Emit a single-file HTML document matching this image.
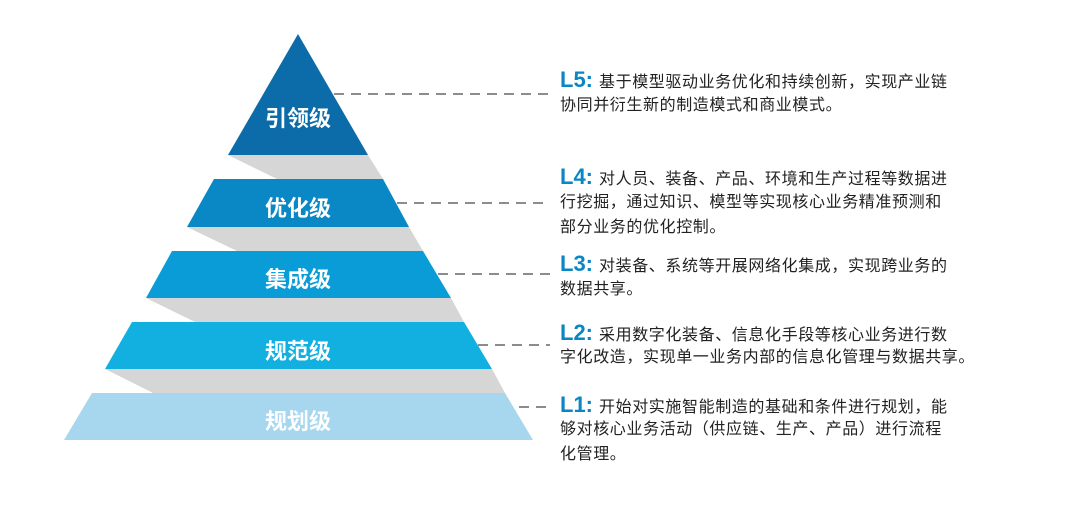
<!DOCTYPE html>
<html><head><meta charset="utf-8"><style>
body{margin:0;width:1080px;height:532px;background:#fff;overflow:hidden;position:relative;font-family:"Liberation Sans","Noto Sans CJK SC",sans-serif}
.t{position:absolute;left:560px;font-size:16px;color:#222;white-space:nowrap;line-height:20px;letter-spacing:0.6px}
.t b{color:#0a86c4;font-size:22px;font-weight:bold;margin-right:6px;letter-spacing:0}
.lab{position:absolute;width:200px;left:198px;text-align:center;color:#fff;font-weight:bold;font-size:22px;font-family:"Noto Sans CJK SC",sans-serif;line-height:26px}
</style></head><body>
<svg width="1080" height="532" style="position:absolute;left:0;top:0">
<g fill="#d6d6d6">
<polygon points="228,155 368,155 383,179 277,179"/>
<polygon points="187,227 409,227 423,251 237,251"/>
<polygon points="146,298 451,298 464,322 195,322"/>
<polygon points="105,369 492,369 505,393 153,393"/>
</g>
<polygon points="298,34 368,155 228,155" fill="#0c6ca9"/>
<polygon points="214,179 383,179 409,227 187,227" fill="#0a87c5"/>
<polygon points="172,251 423,251 451,298 146,298" fill="#0a9cd7"/>
<polygon points="132,322 464,322 492,369 105,369" fill="#12b0e0"/>
<polygon points="92,393 505,393 533,440 64,440" fill="#a6d7ee"/>
<g stroke="#666" stroke-width="1.5" stroke-dasharray="10,7">
<line x1="334" y1="94" x2="550" y2="94"/>
<line x1="397" y1="203" x2="550" y2="203"/>
<line x1="438" y1="274" x2="550" y2="274"/>
<line x1="478" y1="345" x2="550" y2="345"/>
<line x1="519" y1="407" x2="550" y2="407"/>
</g>
</svg>
<div class="lab" style="top:104px">引领级</div>
<div class="lab" style="top:194px">优化级</div>
<div class="lab" style="top:265px">集成级</div>
<div class="lab" style="top:337px">规范级</div>
<div class="lab" style="top:407px">规划级</div>

<div class="t" style="top:70px"><b>L5:</b>基于模型驱动业务优化和持续创新，实现产业链</div>
<div class="t" style="top:96px">协同并衍生新的制造模式和商业模式。</div>

<div class="t" style="top:167px"><b>L4:</b>对人员、装备、产品、环境和生产过程等数据进</div>
<div class="t" style="top:193px">行挖掘，通过知识、模型等实现核心业务精准预测和</div>
<div class="t" style="top:218px">部分业务的优化控制。</div>

<div class="t" style="top:254px"><b>L3:</b>对装备、系统等开展网络化集成，实现跨业务的</div>
<div class="t" style="top:280px">数据共享。</div>

<div class="t" style="top:323px"><b>L2:</b>采用数字化装备、信息化手段等核心业务进行数</div>
<div class="t" style="top:348px">字化改造，实现单一业务内部的信息化管理与数据共享。</div>

<div class="t" style="top:395px"><b>L1:</b>开始对实施智能制造的基础和条件进行规划，能</div>
<div class="t" style="top:420px">够对核心业务活动（供应链、生产、产品）进行流程</div>
<div class="t" style="top:445px">化管理。</div>
</body></html>
